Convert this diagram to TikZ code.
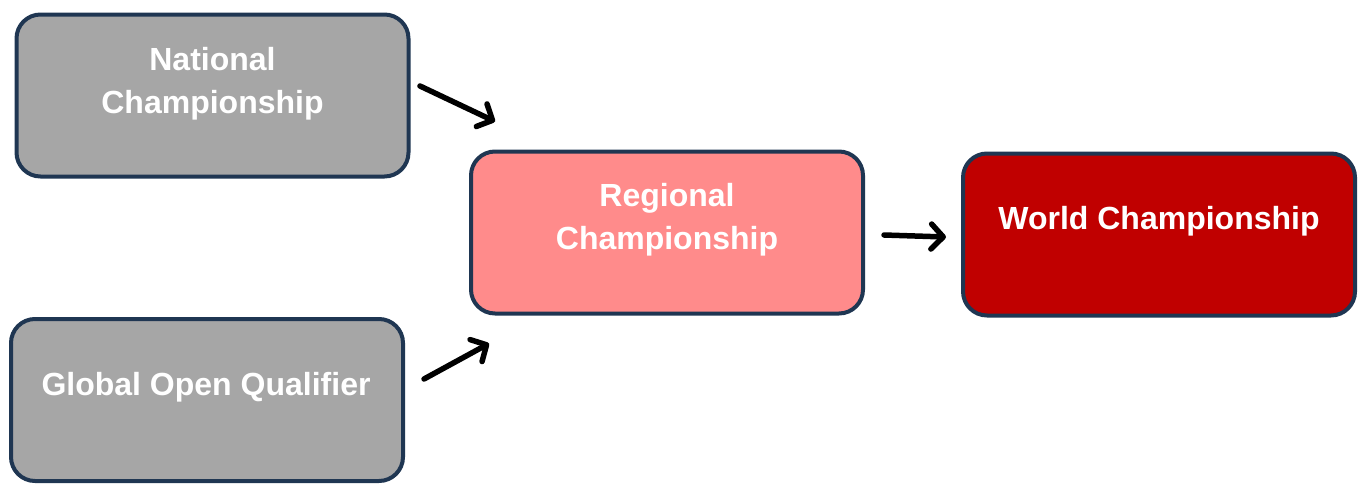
\documentclass[tikz,border=0pt]{standalone}
\usepackage{fontspec}
\setmainfont{Liberation Sans}
\usetikzlibrary{arrows.meta}
\definecolor{edge}{HTML}{1F3652}
\definecolor{grayfill}{HTML}{A6A6A6}
\definecolor{pinkfill}{HTML}{FF8B8B}
\definecolor{redfill}{HTML}{C00000}
\tikzset{
  stagebox/.style={draw=edge, line width=4pt, rounded corners=24pt, minimum width=392pt, minimum height=162pt, inner sep=0pt},
  stagetext/.style={text=white, font=\fontsize{32}{43}\selectfont\bfseries, align=center, inner sep=0pt},
  flow/.style={line width=5.5pt, line cap=round, -{Straight Barb[length=12pt,width=25pt,line cap=round,line join=round]}}
}
\begin{document}
\begin{tikzpicture}[x=1pt,y=-1pt]
\useasboundingbox (0,0) rectangle (1359,485);
\node[stagebox, fill=grayfill] (nat) at (212.5,95.5) {};
\node[stagebox, fill=grayfill] (glo) at (207,400) {};
\node[stagebox, fill=pinkfill] (reg) at (667,232.5) {};
\node[stagebox, fill=redfill] (wor) at (1159,234.5) {};
\node[stagetext] (natt) at (212.5,84) {National\\Championship};
\node[stagetext] (glot) at (206,387) {Global Open Qualifier};
\node[stagetext] (regt) at (667,220) {Regional\\Championship};
\node[stagetext] (wort) at (1159,221) {World Championship};
\coordinate (a1s) at (420,86);
\coordinate (a1e) at (495,121.5);
\coordinate (a2s) at (424,379);
\coordinate (a2e) at (489,343.5);
\coordinate (a3s) at (884,235);
\coordinate (a3e) at (946,237);
\draw[flow] (a1s) -- (a1e);
\draw[flow] (a2s) -- (a2e);
\draw[flow] (a3s) -- (a3e);
\end{tikzpicture}
\end{document}
